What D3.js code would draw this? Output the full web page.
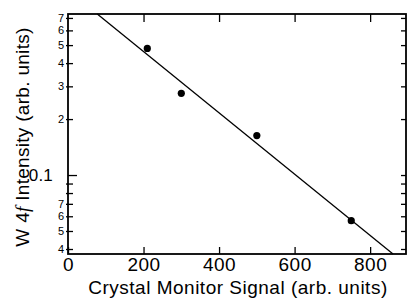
<!DOCTYPE html>
<html>
<head>
<meta charset="utf-8">
<script src="https://cdn.jsdelivr.net/npm/d3@7"></script>
<style>
  body { margin: 0; background: #fff; }
  text { font-family: "Liberation Sans", Arial, Helvetica, sans-serif; fill: #000; }
  .domain { display: none; }
</style>
</head>
<body>
<svg id="chart" width="407" height="299"></svg>
<script>
// data
var signal    = [210, 300, 500, 750];
var intensity = [0.48, 0.275, 0.163, 0.0568];

// fitted straight line on the log plot (two end points)
var fitSignal    = [77.5, 860.6];
var fitIntensity = [0.735, 0.0376];

var xTicks      = [0, 200, 400, 600, 800];
var yMinorTicks = [0.04, 0.05, 0.06, 0.07, 0.08, 0.09, 0.2, 0.3, 0.4, 0.5, 0.6, 0.7];
var yMinorLabel = {0.04: "4", 0.05: "5", 0.06: "6", 0.07: "7", 0.2: "2", 0.3: "3", 0.4: "4", 0.5: "5", 0.6: "6", 0.7: "7"};
var yMajorTicks = [0.1];

var svg = d3.select("#chart");

var plotLeft = 68, plotRight = 406, plotTop = 14, plotBottom = 254;

// ---------------------------//
//       AXIS  AND SCALE      //
// ---------------------------//

var x = d3.scaleLinear()
    .domain([0, 895])
    .range([plotLeft, plotRight]);

var y = d3.scaleLog()
    .domain([0.0376, 0.735])
    .range([plotBottom, plotTop]);

// bottom axis
var gx = svg.append("g")
    .attr("transform", "translate(0," + plotBottom + ")")
    .call(d3.axisBottom(x).tickValues(xTicks).tickSizeInner(-7).tickSizeOuter(0).tickPadding(4));
gx.selectAll("text").style("font-size", "19px").style("letter-spacing", "0.5px").attr("dy", "0.71em");

// top axis, ticks only
svg.append("g")
    .attr("transform", "translate(0," + plotTop + ")")
    .call(d3.axisTop(x).tickValues(xTicks.slice(1)).tickSizeInner(-8).tickSizeOuter(0).tickFormat(""));

// left axis, minor ticks with small labels
var gyMinor = svg.append("g")
    .attr("transform", "translate(" + plotLeft + ",0)")
    .call(d3.axisLeft(y).tickValues(yMinorTicks).tickSizeInner(-5).tickSizeOuter(0).tickPadding(4)
        .tickFormat(function(d) { return yMinorLabel[d] || ""; }));
gyMinor.selectAll("text").style("font-size", "11px");
gyMinor.selectAll("line").attr("x1", -2);

// left axis, major tick
var gyMajor = svg.append("g")
    .attr("transform", "translate(" + plotLeft + ",0)")
    .call(d3.axisLeft(y).tickValues(yMajorTicks).tickSizeInner(-9).tickSizeOuter(0).tickPadding(15)
        .tickFormat(d3.format(".1f")));
gyMajor.selectAll("text").style("font-size", "17px").style("letter-spacing", "0.2px");

// right axis, ticks only
svg.append("g")
    .attr("transform", "translate(" + plotRight + ",0)")
    .call(d3.axisRight(y).tickValues(yMinorTicks.concat(yMajorTicks)).tickSizeInner(-5).tickSizeOuter(0).tickFormat(""));

svg.selectAll(".tick line").attr("stroke", "#000").attr("stroke-width", 1.3);

// frame
svg.append("rect")
    .attr("x", plotLeft)
    .attr("y", plotTop)
    .attr("width", plotRight - plotLeft)
    .attr("height", plotBottom - plotTop)
    .attr("fill", "none")
    .attr("stroke", "#000")
    .attr("stroke-width", 1.8);

// axis labels
svg.append("text")
    .attr("x", 238)
    .attr("y", 294)
    .attr("text-anchor", "middle")
    .style("font-size", "19px")
    .style("letter-spacing", "0.5px")
    .text("Crystal Monitor Signal (arb. units)");

var yl = svg.append("text")
    .attr("transform", "translate(29,137) rotate(-90)")
    .attr("text-anchor", "middle")
    .style("font-size", "19px")
    .style("letter-spacing", "0.3px");
yl.append("tspan").text("W 4");
yl.append("tspan").style("font-style", "italic").style("font-family", "'Liberation Serif', 'Times New Roman', serif").text("f");
yl.append("tspan").text(" Intensity (arb. units)");

// ---------------------------//
//       FIT LINE             //
// ---------------------------//

var fit = fitSignal.map(function(d, i) { return {x: d, y: fitIntensity[i]}; });

svg.append("path")
    .datum(fit)
    .attr("fill", "none")
    .attr("stroke", "#000")
    .attr("stroke-width", 1.3)
    .attr("d", d3.line()
        .x(function(d) { return x(d.x); })
        .y(function(d) { return y(d.y); }));

// ---------------------------//
//       POINTS               //
// ---------------------------//

svg.append("g")
    .selectAll("circle")
    .data(signal)
    .enter()
    .append("circle")
    .attr("cx", function(d) { return x(d); })
    .attr("cy", function(d, i) { return y(intensity[i]); })
    .attr("r", 3.6)
    .attr("fill", "#000");
</script>
</body>
</html>
